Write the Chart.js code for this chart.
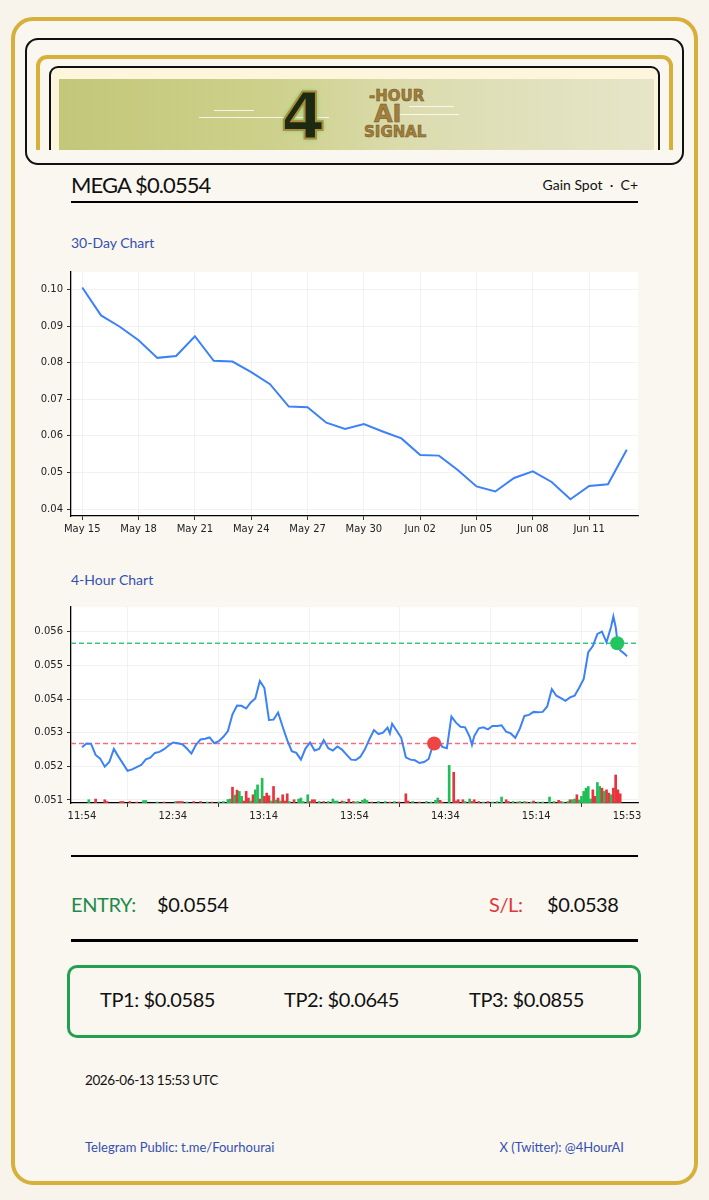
<!DOCTYPE html>
<html>
<head>
<meta charset="utf-8">
<script src="https://cdn.jsdelivr.net/npm/chart.js@4.4.1/dist/chart.umd.min.js"></script>
<style>
  html, body { margin: 0; padding: 0; }
  body { width: 709px; height: 1200px; background: #f8f4ec; position: relative; overflow: hidden; font-family: Lato, "Noto Sans", sans-serif; color: #111; }
  .abs { position: absolute; }
  #frame { left: 11px; top: 17px; width: 679px; height: 1160px; border: 4px solid #d6b03a; border-radius: 22px; background: #faf7f0; }
  #hdrOuter { left: 25px; top: 38px; width: 655px; height: 123px; border: 2px solid #111; border-radius: 13px; background: #faf7f0; }
  #hdrClip { left: 0; top: 0; width: 655px; height: 110px; overflow: hidden; }
  #hdrGold { left: 9px; top: 15px; width: 629px; height: 120px; border: 4px solid #d6b03a; border-radius: 11px; }
  #hdrInner { left: 9px; top: 7px; width: 607px; height: 120px; border: 2px solid #111; border-radius: 9px; background: #fdf5dc; }
  #banner { left: 8px; top: 11px; width: 595px; height: 71px; background: linear-gradient(90deg, #c3c77a 0%, #cdd08a 35%, #dcdcb0 60%, #e6e5c9 100%); overflow: hidden; }
  .circuit { height: 1px; background: rgba(255,255,255,0.8); }
  .logo4 { font-family: "DejaVu Sans"; font-weight: bold; font-size: 64px; line-height: 64px; color: #1b2a10; -webkit-text-stroke: 2px #b08a3c; text-shadow: 0 0 4px #3cdc5a; }
  .logoTxt { font-family: "DejaVu Sans"; font-weight: bold; color: #a27f3a; -webkit-text-stroke: 0.5px #6b4f1f; }
  .rule { background: #000; }
  .sect { font-size: 14px; color: #3550b0; }
  .big { font-size: 20px; letter-spacing: -0.4px; }
</style>
</head>
<body>
<div id="frame" class="abs"></div>

<div id="hdrOuter" class="abs">
  <div id="hdrClip" class="abs">
    <div id="hdrGold" class="abs">
      <div id="hdrInner" class="abs">
        <div id="banner" class="abs">
          <div class="abs circuit" style="left:140px; top:38px; width:130px;"></div>
          <div class="abs circuit" style="left:155px; top:31px; width:40px;"></div>
          <div class="abs circuit" style="left:340px; top:35px; width:60px;"></div>
          <div class="abs circuit" style="left:350px; top:27px; width:45px;"></div>
          <div class="abs logo4" style="left:222px; top:6px;">4</div>
          <div class="abs logoTxt" style="left:310px; top:8px; font-size:15px;">-HOUR</div>
          <div class="abs logoTxt" style="left:315px; top:21px; font-size:24px;">AI</div>
          <div class="abs logoTxt" style="left:305px; top:44px; font-size:15px;">SIGNAL</div>
        </div>
      </div>
    </div>
  </div>
</div>

<div class="abs" style="left:71px; top:171px; font-size:22px; letter-spacing:-0.9px;">MEGA $0.0554</div>
<div class="abs" style="right:71px; top:176px; font-size:14px;">Gain Spot &nbsp;·&nbsp; C+</div>
<div class="abs rule" style="left:71px; top:201px; width:567px; height:2px;"></div>

<div class="abs sect" style="left:71px; top:234px;">30-Day Chart</div>
<canvas id="c30" class="abs" style="left:25px; top:262px;" width="620" height="280"></canvas>

<div class="abs sect" style="left:71px; top:571px;">4-Hour Chart</div>
<canvas id="c4h" class="abs" style="left:25px; top:597px;" width="620" height="232"></canvas>

<div class="abs rule" style="left:71px; top:855px; width:567px; height:2px;"></div>
<div class="abs big" style="left:71px; top:892px; color:#1f8a4a;">ENTRY:</div>
<div class="abs big" style="left:157px; top:892px;">$0.0554</div>
<div class="abs big" style="left:489px; top:892px; color:#e0353a;">S/L:</div>
<div class="abs big" style="left:547px; top:892px;">$0.0538</div>
<div class="abs rule" style="left:71px; top:939px; width:567px; height:3px;"></div>

<div class="abs" style="left:67px; top:965px; width:568px; height:67px; border:3px solid #22a04f; border-radius:10px;"></div>
<div class="abs big" style="left:100px; top:987px;">TP1: $0.0585</div>
<div class="abs big" style="left:284px; top:987px;">TP2: $0.0645</div>
<div class="abs big" style="left:469px; top:987px;">TP3: $0.0855</div>

<div class="abs" style="left:85px; top:1072px; font-size:13.5px; letter-spacing:-0.4px;">2026-06-13 15:53 UTC</div>
<div class="abs" style="left:85px; top:1139px; font-size:13px; color:#3550b0;">Telegram Public: t.me/Fourhourai</div>
<div class="abs" style="right:85px; top:1139px; font-size:13px; color:#3550b0;">X (Twitter): @4HourAI</div>

<script>
// 30-day daily prices
var days30 = ['May 15', 'May 16', 'May 17', 'May 18', 'May 19', 'May 20', 'May 21', 'May 22', 'May 23', 'May 24',
              'May 25', 'May 26', 'May 27', 'May 28', 'May 29', 'May 30', 'May 31', 'Jun 01', 'Jun 02', 'Jun 03',
              'Jun 04', 'Jun 05', 'Jun 06', 'Jun 07', 'Jun 08', 'Jun 09', 'Jun 10', 'Jun 11', 'Jun 12', 'Jun 13'];
var price30 = [0.1005, 0.0929, 0.0898, 0.0861, 0.0813, 0.0818, 0.0872, 0.0805, 0.0803, 0.0774,
               0.0741, 0.0680, 0.0678, 0.0636, 0.0619, 0.0632, 0.0612, 0.0593, 0.0548, 0.0546,
               0.0507, 0.0462, 0.0448, 0.0485, 0.0503, 0.0474, 0.0427, 0.0463, 0.0468, 0.0562];
var xTickIdx30 = [0, 3, 6, 9, 12, 15, 18, 21, 24, 27];
var yTicks30 = [0.04, 0.05, 0.06, 0.07, 0.08, 0.09, 0.10];

// 4-hour chart: minutes after 11:54 and price
var minutes4h = [0, 2, 4, 6, 8, 10, 12, 14, 16, 18, 20, 22, 24, 26, 28, 30, 32, 34, 36, 38,
                 40, 42, 44, 46, 48, 50, 52, 54, 56, 58, 60, 62, 64, 66, 68, 70, 72, 74, 76, 78,
                 80, 82, 84, 86, 88, 90, 92, 94, 96, 98, 100, 102, 104, 106, 108, 110, 112, 114, 116, 118,
                 120, 122, 124, 126, 128, 130, 132, 134, 135, 136, 138, 140, 142, 144, 146, 148, 150, 152, 154, 156,
                 158, 160, 162, 164, 166, 168, 170, 171, 172, 174, 176, 178, 180, 182, 184, 186, 188, 190, 192, 194,
                 196, 198, 200, 202, 204, 206, 208, 210, 212, 214, 216, 218, 220, 222, 224, 226, 228, 230, 232, 233,
                 234, 235, 236, 238, 239];
var price4h = [0.05257, 0.05268, 0.05267, 0.05234, 0.05223, 0.05199, 0.05213, 0.05252, 0.05229, 0.05208,
               0.05187, 0.05191, 0.05198, 0.05204, 0.05221, 0.05226, 0.05240, 0.05243, 0.05251, 0.05262,
               0.05271, 0.05269, 0.05266, 0.05253, 0.05238, 0.05264, 0.05280, 0.05282, 0.05286, 0.05269,
               0.05275, 0.05288, 0.05305, 0.05355, 0.05381, 0.05380, 0.05372, 0.05390, 0.05402, 0.05454,
               0.05433, 0.05338, 0.05339, 0.05360, 0.05318, 0.05278, 0.05245, 0.05240, 0.05220, 0.05253,
               0.05271, 0.05247, 0.05252, 0.05278, 0.05254, 0.05247, 0.05259, 0.05250, 0.05235, 0.05220,
               0.05219, 0.05228, 0.05250, 0.05280, 0.05308, 0.05296, 0.05300, 0.05315, 0.05298, 0.05327,
               0.05306, 0.05285, 0.05227, 0.05220, 0.05218, 0.05210, 0.05213, 0.05222, 0.05265, 0.05280,
               0.05258, 0.05254, 0.05348, 0.05330, 0.05318, 0.05316, 0.05288, 0.05264, 0.05290, 0.05313,
               0.05316, 0.05310, 0.05320, 0.05320, 0.05322, 0.05303, 0.05298, 0.05285, 0.05312, 0.05350,
               0.05353, 0.05362, 0.05361, 0.05362, 0.05378, 0.05430, 0.05410, 0.05403, 0.05395, 0.05405,
               0.05410, 0.05434, 0.05460, 0.05540, 0.05558, 0.05594, 0.05601, 0.05569, 0.05615, 0.05646,
               0.05615, 0.05560, 0.05545, 0.05534, 0.05527];

// volume bars (minute, size, direction u/d)
var volMin = [3, 6, 10, 11, 17, 18, 21, 24, 27, 28, 33, 36, 41, 42, 43, 44, 46, 49, 52, 55,
              57, 60, 62, 64, 65, 66, 67, 68, 69, 70, 71, 72, 73, 74, 75, 76, 77, 78, 79, 80,
              81, 82, 83, 84, 85, 86, 87, 88, 89, 90, 91, 93, 95, 96, 97, 99, 100, 101, 102, 104,
              106, 108, 110, 111, 112, 114, 115, 117, 119, 120, 121, 123, 124, 125, 127, 130, 133, 135, 137, 139,
              142, 143, 145, 148, 151, 153, 155, 156, 157, 158, 161, 163, 164, 165, 167, 168, 170, 171, 172, 174,
              176, 178, 180, 182, 184, 186, 187, 189, 191, 192, 194, 195, 197, 198, 200, 202, 205, 207, 209, 210,
              211, 213, 214, 215, 216, 217, 218, 219, 220, 221, 222, 223, 224, 225, 226, 227, 228, 229, 230, 231,
              232, 233, 234, 235, 236];
var volAmt = [33, 40, 33, 15, 15, 15, 15, 10, 25, 25, 10, 10, 15, 15, 15, 15, 10, 15, 15, 10,
              10, 10, 15, 35, 40, 160, 80, 130, 117, 67, 20, 117, 50, 20, 83, 133, 183, 40, 250, 67,
              100, 73, 20, 167, 30, 50, 20, 83, 20, 93, 15, 33, 40, 50, 15, 83, 15, 33, 33, 15,
              15, 15, 40, 20, 20, 20, 15, 40, 15, 10, 15, 27, 40, 25, 10, 15, 15, 10, 15, 10,
              93, 20, 15, 10, 15, 10, 27, 50, 27, 10, 380, 310, 20, 33, 33, 15, 40, 15, 33, 15,
              10, 15, 10, 15, 60, 33, 15, 15, 10, 15, 15, 10, 10, 20, 10, 10, 60, 15, 27, 15,
              10, 15, 33, 33, 40, 83, 30, 67, 117, 150, 167, 40, 133, 67, 207, 167, 150, 117, 133, 100,
              83, 150, 283, 133, 93];
var volDir = 'uddddddduu' + 'ududdduddu' + 'duuuududuu' + 'ddduduudud' +
             'ddudududdd' + 'uduuuudddu' + 'duuuududdu' + 'uuuuduudud' +
             'dduduuuudd' + 'udddduuddd' + 'uduuuddudu' + 'ududuuuudd' +
             'uuduuduuuu' + 'uudduududd' + 'udddd';

var tickPos4h = [0, 39.83, 79.67, 119.5, 159.33, 199.17, 239];
var tickLabels4h = ['11:54', '12:34', '13:14', '13:54', '14:34', '15:14', '15:53'];
var yTicks4h = [0.051, 0.052, 0.053, 0.054, 0.055, 0.056];

var levelGreen = 0.05566;
var levelRed = 0.05268;
var markerMin = [154.4, 234.7];
var markerPrice = [0.05268, 0.05566];

Chart.defaults.font.family = 'DejaVu Sans';
Chart.defaults.font.size = 10;
Chart.defaults.color = '#222';

var plotBg = {
    id: 'plotBg',
    beforeDraw: function (c) {
        var a = c.chartArea;
        c.ctx.save();
        c.ctx.fillStyle = '#ffffff';
        c.ctx.fillRect(a.left, a.top, a.right - a.left, a.bottom - a.top);
        c.ctx.restore();
    }
};

function axisStyle() {
    return {
        grid: { color: '#efefef', lineWidth: 0.8, tickColor: '#000', tickLength: 4, drawTicks: true },
        border: { display: true, color: '#000', width: 1.3 }
    };
}

// 30-Day chart
var x30 = axisStyle();
x30.type = 'linear';
x30.min = -0.6;
x30.max = 29.6;
x30.offset = false;
x30.afterBuildTicks = function (s) { s.ticks = xTickIdx30.map(function (v) { return { value: v }; }); };
x30.ticks = { padding: 3, maxRotation: 0, autoSkip: false, callback: function (v) { return days30[v]; } };
x30.afterFit = function (s) { s.height = 26; };

var y30 = axisStyle();
y30.min = 0.03811;
y30.max = 0.10475;
y30.afterBuildTicks = function (s) { s.ticks = yTicks30.map(function (v) { return { value: v }; }); };
y30.ticks = { padding: 4, callback: function (v) { return v.toFixed(2); } };
y30.afterFit = function (s) { s.width = 46; };

new Chart(document.getElementById('c30'), {
    type: 'line',
    data: {
        datasets: [{
            data: price30.map(function (v, i) { return { x: i, y: v }; }),
            borderColor: '#3b82f6',
            borderWidth: 2,
            pointRadius: 0,
            tension: 0
        }]
    },
    options: {
        responsive: false,
        animation: false,
        layout: { padding: { top: 8, right: 7, bottom: 0, left: 0 } },
        plugins: { legend: { display: false }, tooltip: { enabled: false } },
        scales: { x: x30, y: y30 }
    },
    plugins: [plotBg]
});

// 4-Hour chart
var xMin4h = -4.8, xMax4h = 243.8;
var x4 = axisStyle();
x4.type = 'linear';
x4.min = xMin4h;
x4.max = xMax4h;
x4.offset = false;
x4.afterBuildTicks = function (s) { s.ticks = tickPos4h.map(function (v) { return { value: v }; }); };
x4.ticks = { padding: 3, maxRotation: 0, autoSkip: false, callback: function (v) { return tickLabels4h[tickPos4h.indexOf(v)]; } };
x4.afterFit = function (s) { s.height = 26; };

var y4 = axisStyle();
y4.min = 0.05091;
y4.max = 0.05674;
y4.afterBuildTicks = function (s) { s.ticks = yTicks4h.map(function (v) { return { value: v }; }); };
y4.ticks = { padding: 4, callback: function (v) { return v.toFixed(3); } };
y4.afterFit = function (s) { s.width = 46; };

new Chart(document.getElementById('c4h'), {
    type: 'line',
    data: {
        datasets: [{
            type: 'line',
            data: markerMin.map(function (m, i) { return { x: m, y: markerPrice[i] }; }),
            showLine: false,
            pointRadius: 7,
            pointBorderWidth: 0,
            pointBackgroundColor: ['#ef4444', '#22c55e'],
            order: 0
        }, {
            type: 'line',
            data: minutes4h.map(function (m, i) { return { x: m, y: price4h[i] }; }),
            borderColor: '#3b82f6',
            borderWidth: 2,
            pointRadius: 0,
            tension: 0,
            order: 1
        }, {
            type: 'line',
            data: [{ x: xMin4h, y: levelGreen }, { x: xMax4h, y: levelGreen }],
            borderColor: 'rgb(60, 200, 130)',
            backgroundColor: 'rgb(60, 200, 130)',
            borderWidth: 1.5,
            borderDash: [5, 3],
            pointRadius: 0,
            fill: false,
            order: 2
        }, {
            type: 'line',
            data: [{ x: xMin4h, y: levelRed }, { x: xMax4h, y: levelRed }],
            borderColor: 'rgb(240, 110, 125)',
            backgroundColor: 'rgb(240, 110, 125)',
            borderWidth: 1.5,
            borderDash: [5, 3],
            pointRadius: 0,
            fill: false,
            order: 2
        }, {
            type: 'bar',
            yAxisID: 'yv',
            data: volMin.map(function (m, i) { return { x: m, y: volAmt[i] }; }),
            backgroundColor: volMin.map(function (m, i) { return volDir[i] === 'u' ? '#1fbf55' : '#e8323c'; }),
            barThickness: 2,
            order: 3
        }]
    },
    options: {
        responsive: false,
        animation: false,
        layout: { padding: { top: 8, right: 7, bottom: 0, left: 0 } },
        plugins: { legend: { display: false }, tooltip: { enabled: false } },
        scales: {
            x: x4,
            y: y4,
            yv: { display: false, min: 0, max: 1980 }
        }
    },
    plugins: [plotBg]
});
</script>
</body>
</html>
